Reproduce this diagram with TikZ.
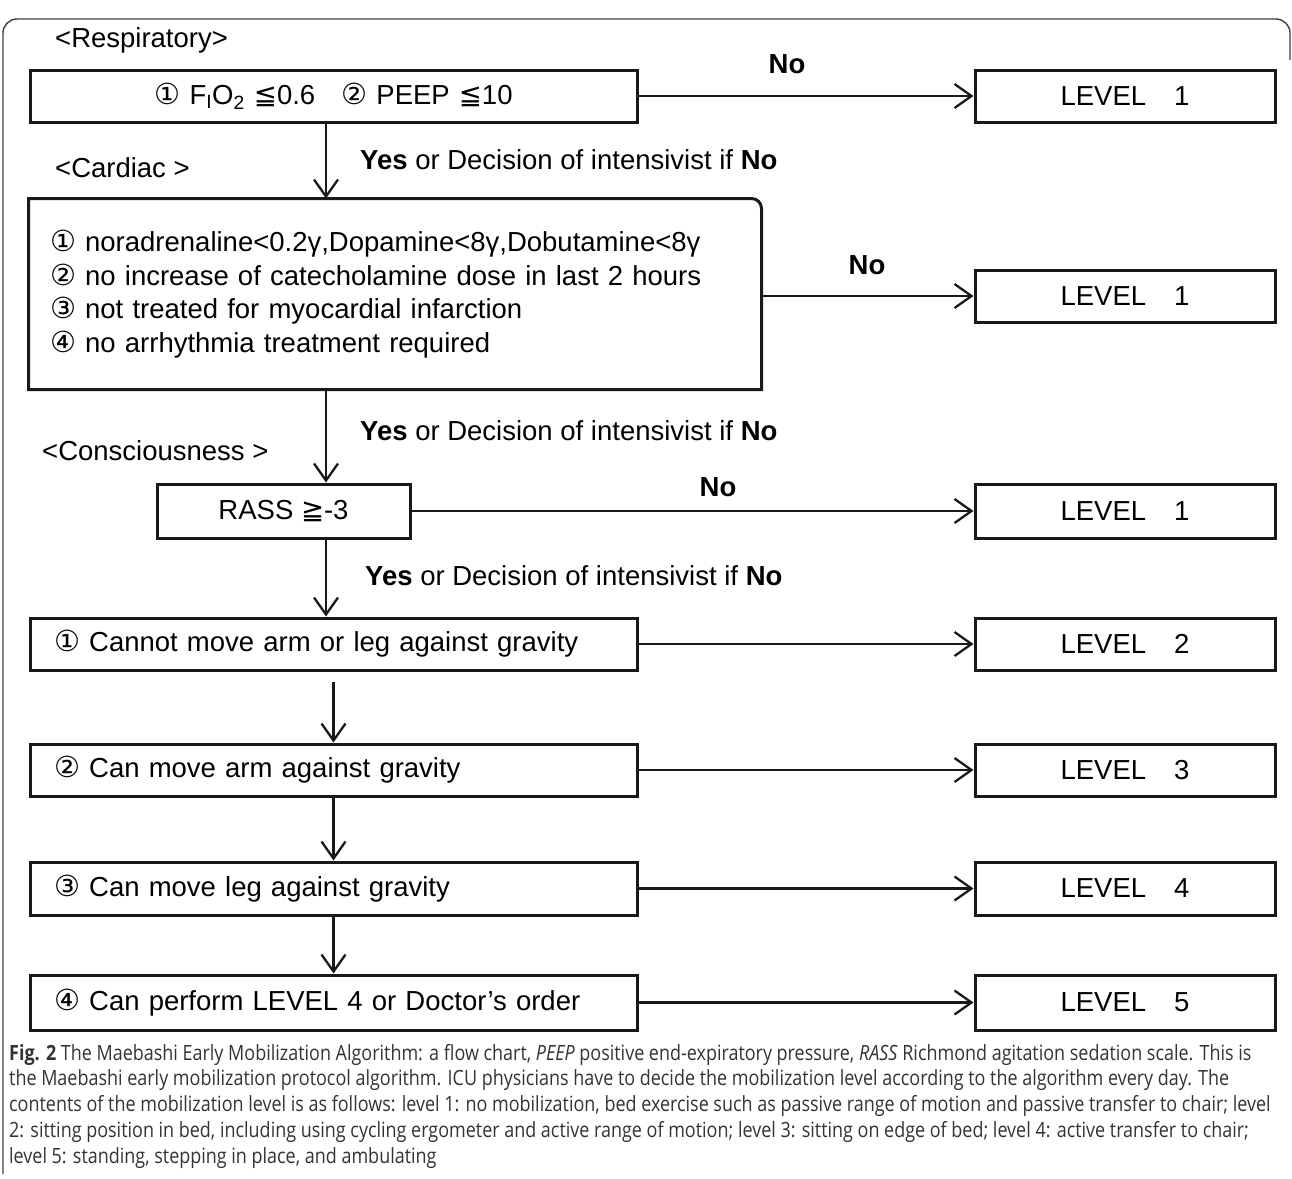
\documentclass[tikz,border=0pt]{standalone}
\usepackage{fontspec}
\setmainfont{Liberation Sans}
\newfontfamily\symfont{DejaVu Sans}
\newfontfamily\capfont{Open Sans}[FakeStretch=0.855]
\usetikzlibrary{arrows.meta}
\newcommand{\cnum}[1]{{\symfont\fontsize{29}{20}\selectfont #1}}
\newcommand{\yesno}{\textbf{Yes} or Decision of intensivist if \textbf{No}}

\begin{document}
\begin{tikzpicture}[x = 1pt, y = -1pt,
    txt/.style  = {font = \fontsize{27.5}{33.7}\selectfont},
    box/.style  = {txt, draw = black!90, line width = 3pt, minimum height = 52pt,
                   inner xsep = 24pt, inner ysep = 0pt},
    lvl/.style  = {box, minimum width = 300pt},
    cond/.style = {box, text width = 559pt, align = left},
    hdr/.style  = {txt, anchor = west, inner sep = 0pt},
    nolbl/.style = {txt, font = \fontsize{27.5}{33.7}\selectfont\bfseries},
    arr/.style  = {line width = 2.3pt, draw = black!90,
                   -{Straight Barb[length = 17pt, width = 24pt, line width = 2.3pt]}}]
  \useasboundingbox (0,0) rectangle (1292,1178);
  \draw [line width = 1.4pt, black!75, rounded corners = 14pt]
    (3,1174) -- (3,19) -- (1290,19) -- (1290,60);

  \coordinate (spine) at (326,0);

  \node [hdr] (hresp) at (55,40) {<Respiratory>};
  \node [cond, align = center] (resp) at (333.5,96)
    {\cnum{①} F\textsubscript{I}O\textsubscript{2} {\symfont ≦}0.6\hspace{26pt}\cnum{②} PEEP {\symfont ≦}10};
  \node [lvl] (lva) at (1125,96) {LEVEL\hspace{28pt}1};
  \node [nolbl] (noa) at (787,64) {No};

  \node [hdr] (hcard) at (55,168) {<Cardiac >};
  \node [hdr] (yesa) at (360,160) {\yesno};
  \node [box, draw = none, minimum width = 730pt, minimum height = 188pt,
         text width = 690pt, inner xsep = 20pt, align = left] (card) at (395,294)
    {\cnum{①} noradrenaline<0.2γ,Dopamine<8γ,Dobutamine<8γ\\
     \cnum{②} no increase of catecholamine dose in last 2 hours\\
     \cnum{③} not treated for myocardial infarction\\
     \cnum{④} no arrhythmia treatment required};
  \draw [line width = 3pt, black!90] (card.south west) -- (card.north west)
    [rounded corners = 10pt] -- (card.north east) [sharp corners] -- (card.south east) -- cycle;
  \node [lvl] (lvb) at (1125,296) {LEVEL\hspace{28pt}1};
  \node [nolbl] (nob) at (867,265) {No};

  \node [hdr] (hcons) at (42,451) {<Consciousness >};
  \node [hdr] (yesb) at (360,431) {\yesno};
  \node [box, minimum width = 253pt, minimum height = 54pt] (rass) at (283.5,511) {RASS {\symfont ≧}-3};
  \node [lvl, minimum height = 54pt] (lvc) at (1125,511) {LEVEL\hspace{28pt}1};
  \node [nolbl] (noc) at (718,487) {No};
  \node [hdr] (yesc) at (365,576) {\yesno};

  \node [cond] (mob1) at (333.5,644) {\cnum{①} Cannot move arm or leg against gravity};
  \node [cond] (mob2) at (333.5,770) {\cnum{②} Can move arm against gravity};
  \node [cond, minimum height = 53pt] (mob3) at (333.5,888.5) {\cnum{③} Can move leg against gravity};
  \node [cond, minimum height = 55pt] (mob4) at (333.5,1002.5) {\cnum{④} Can perform LEVEL 4 or Doctor’s order};
  \node [lvl] (lv2) at (1125,644) {LEVEL\hspace{28pt}2};
  \node [lvl] (lv3) at (1125,770) {LEVEL\hspace{28pt}3};
  \node [lvl, minimum height = 53pt] (lv4) at (1125,888.5) {LEVEL\hspace{28pt}4};
  \node [lvl, minimum height = 55pt] (lv5) at (1125,1002.5) {LEVEL\hspace{28pt}5};

  \draw [arr] (resp) -- (lva);
  \draw [arr] (card.east |- lvb) -- (lvb);
  \draw [arr] (rass) -- (lvc);
  \draw [arr] (mob1) -- (lv2);
  \draw [arr] (mob2) -- (lv3);
  \draw [arr] (mob3) -- (lv4);
  \draw [arr] (mob4) -- (lv5);

  \draw [arr] (resp.south -| spine) -- (card.north -| spine);
  \draw [arr] (card.south -| spine) -- (rass.north -| spine);
  \draw [arr] (rass.south -| spine) -- (mob1.north -| spine);
  \draw [arr] ([yshift = -10pt]mob1.south) -- (mob2.north);
  \draw [arr] (mob2) -- (mob3);
  \draw [arr] (mob3) -- (mob4);

  \node [anchor = north west, inner sep = 0pt, align = left, text = black!80,
         font = \capfont\fontsize{21}{25.7}\selectfont] (cap) at (9,1044)
    {\textbf{Fig. 2} The Maebashi Early Mobilization Algorithm: a flow chart, \textit{PEEP} positive end-expiratory pressure, \textit{RASS} Richmond agitation sedation scale. This is\\
     the Maebashi early mobilization protocol algorithm. ICU physicians have to decide the mobilization level according to the algorithm every day. The\\
     contents of the mobilization level is as follows: level 1: no mobilization, bed exercise such as passive range of motion and passive transfer to chair; level\\
     2: sitting position in bed, including using cycling ergometer and active range of motion; level 3: sitting on edge of bed; level 4: active transfer to chair;\\
     level 5: standing, stepping in place, and ambulating};
\end{tikzpicture}
\end{document}
